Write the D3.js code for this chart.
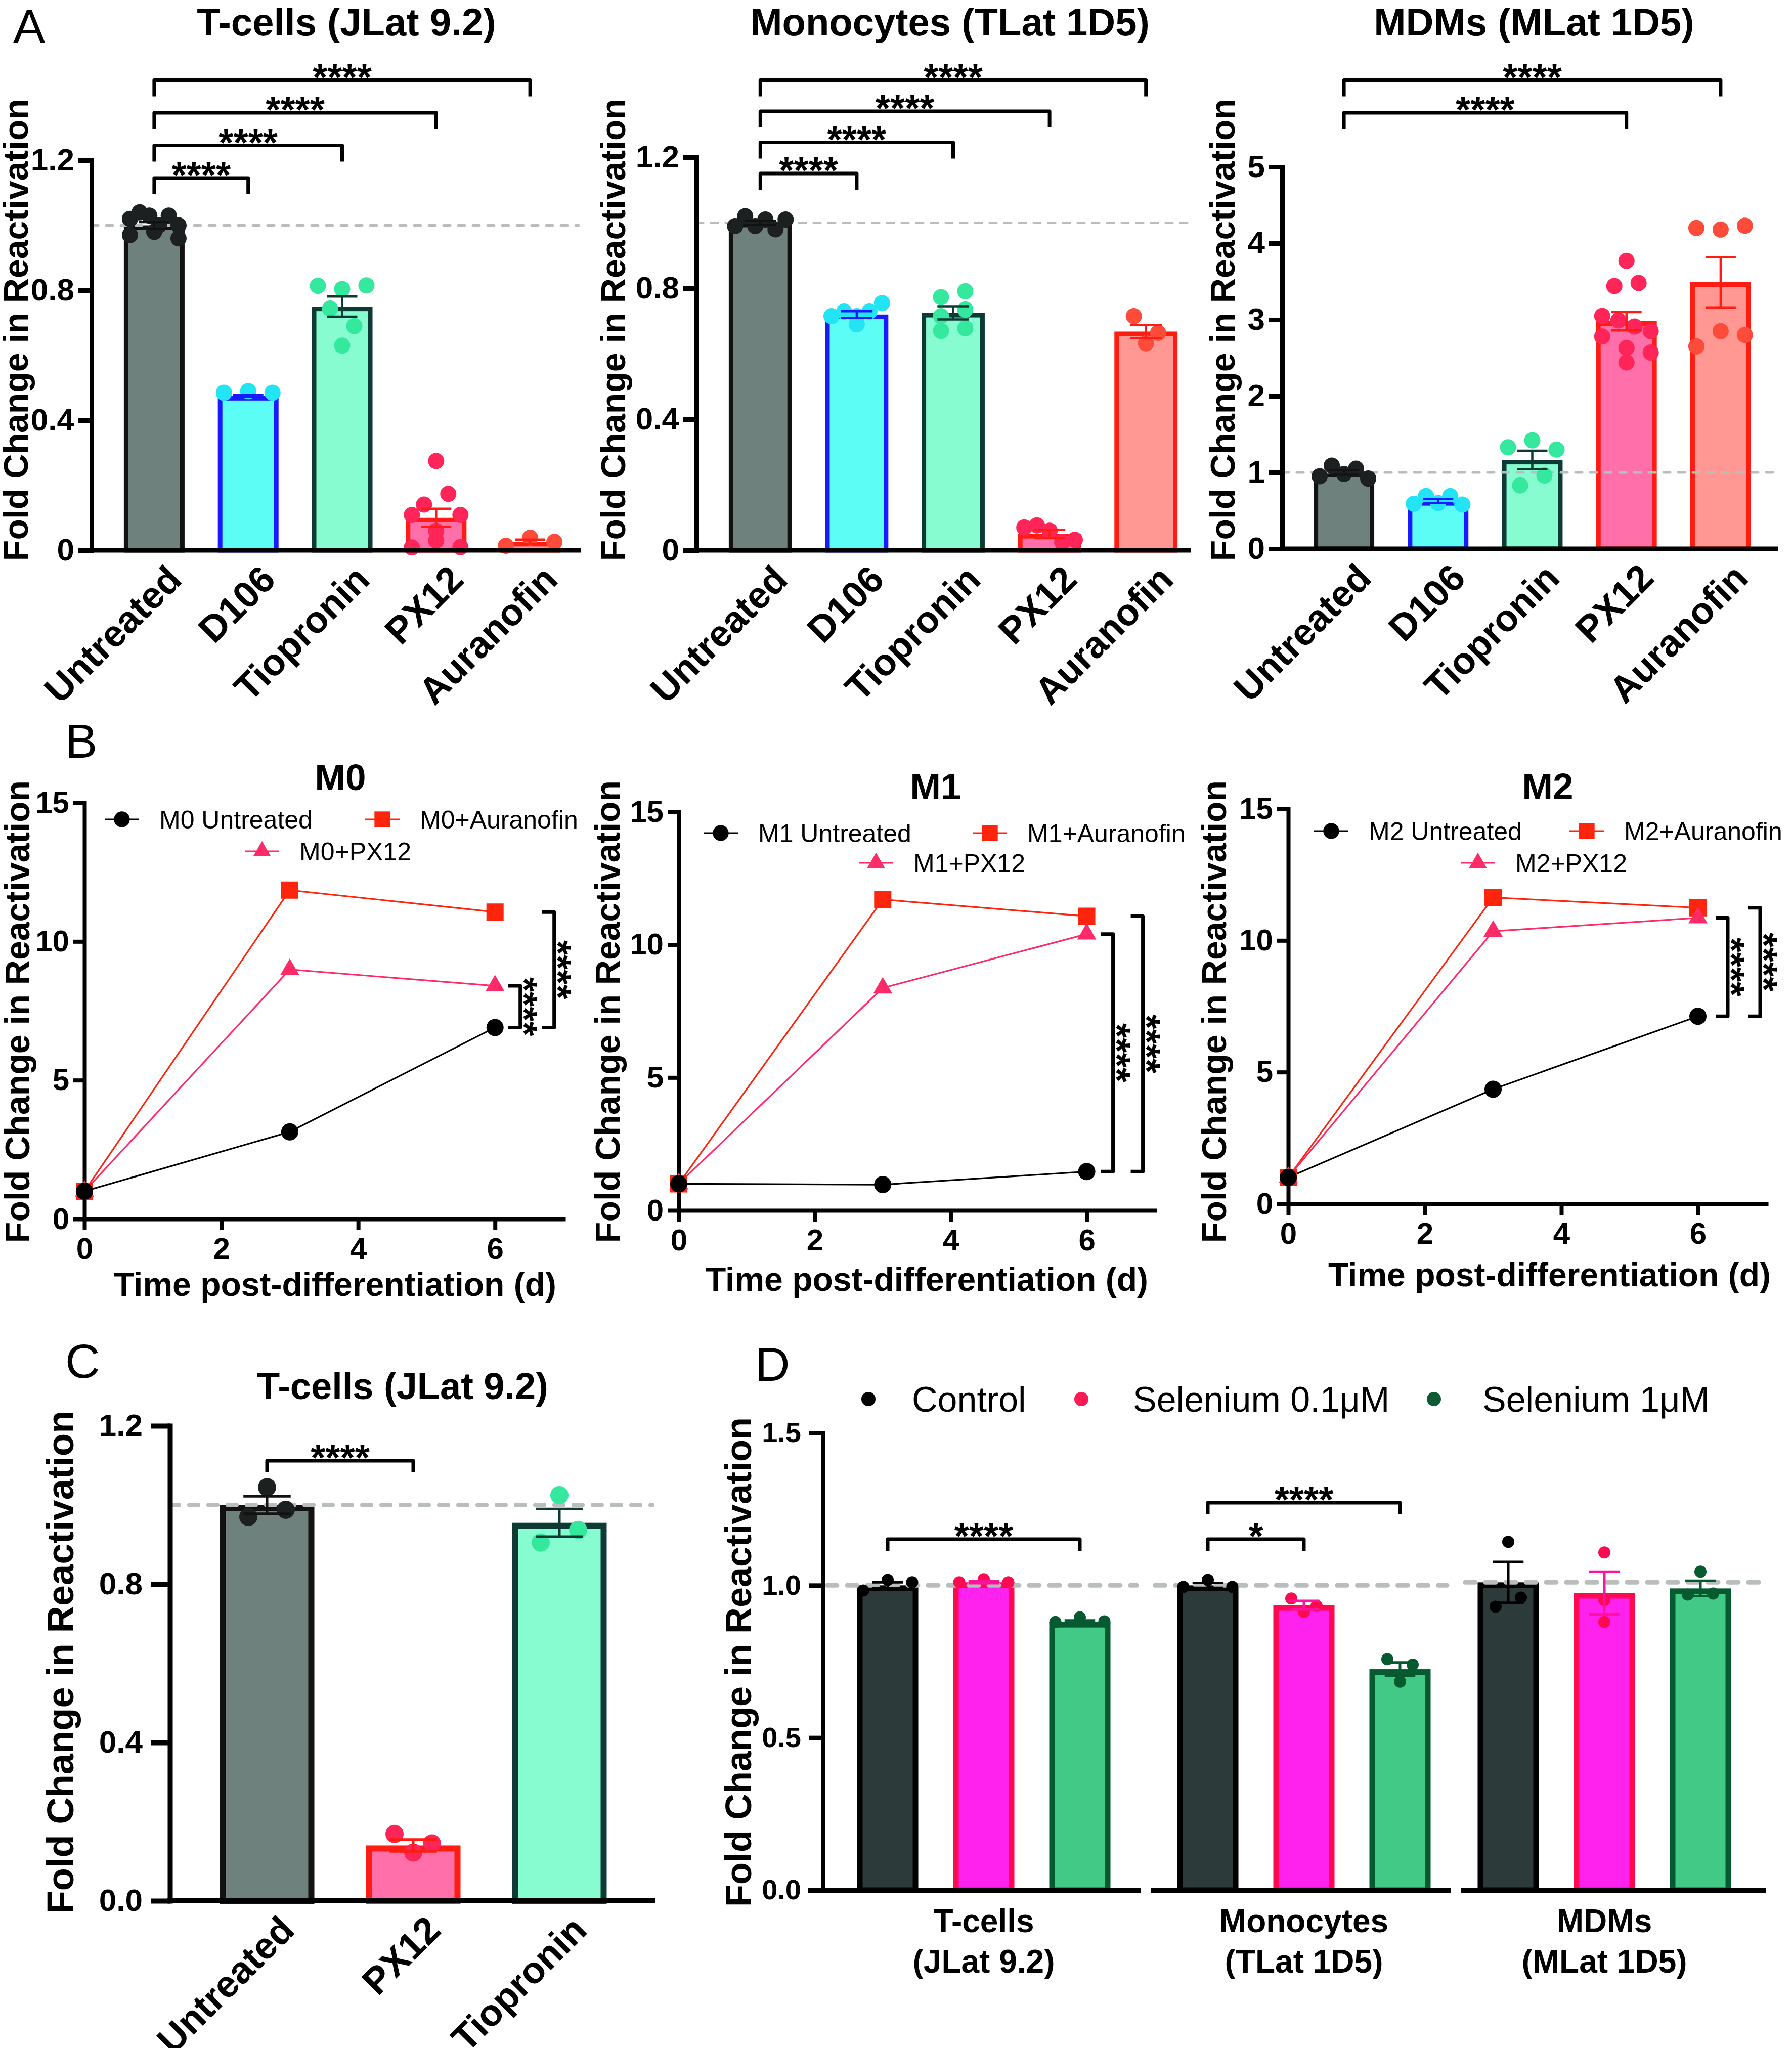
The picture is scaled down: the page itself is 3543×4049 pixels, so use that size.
<!DOCTYPE html>
<html>
<head>
<meta charset="utf-8">
<script src="https://cdn.jsdelivr.net/npm/d3@7/dist/d3.min.js"></script>
<style>
  html, body { margin:0; padding:0; background:#ffffff; }
  svg { display:block; }
</style>
</head>
<body>
<svg id="fig" width="3543" height="4049" xmlns="http://www.w3.org/2000/svg"></svg>
<script>
// ================= DATA =================
// Panel A
const aCategories = ["Untreated", "D106", "Tiopronin", "PX12", "Auranofin"];
const aTitles = ["T-cells (JLat 9.2)", "Monocytes (TLat 1D5)", "MDMs (MLat 1D5)"];

const aTcellMeans = [1.00, 0.475, 0.75, 0.10, 0.026];
const aTcellSEM   = [0.010, 0.003, 0.031, 0.028, 0.007];
const aTcellDots  = [
  [0.97, 1.02, 1.04, 0.98, 1.03, 1.00, 1.03, 0.96, 1.00],
  [0.485, 0.49, 0.485],
  [0.814, 0.804, 0.815, 0.744, 0.69, 0.63],
  [0.275, 0.141, 0.174, 0.109, 0.06, 0.109, 0.009, 0.03, 0.01],
  [0.014, 0.039, 0.026]
];

const aMonoMeans = [1.00, 0.72, 0.725, 0.05, 0.668];
const aMonoSEM   = [0.006, 0.010, 0.020, 0.013, 0.020];
const aMonoDots  = [
  [0.99, 1.02, 0.99, 1.01, 0.98, 1.01],
  [0.715, 0.729, 0.715, 0.729, 0.755, 0.69],
  [0.773, 0.791, 0.715, 0.735, 0.67, 0.678],
  [0.07, 0.076, 0.06, 0.025, 0.032],
  [0.715, 0.664, 0.632]
];

const aMdmMeans = [1.00, 0.625, 1.165, 2.98, 3.49];
const aMdmSEM   = [0.03, 0.025, 0.12, 0.12, 0.33];
const aMdmDots  = [
  [0.95, 1.09, 0.98, 1.05, 0.92],
  [0.59, 0.69, 0.60, 0.69, 0.58],
  [1.33, 1.42, 1.30, 0.83, 0.96],
  [3.77, 3.44, 3.48, 3.05, 2.99, 2.91, 2.85, 2.78, 2.63, 2.57, 2.44],
  [4.20, 4.18, 4.23, 2.65, 2.85, 2.80]
];

const aTicks12 = [0, 0.4, 0.8, 1.2];
const aTickLabels12 = ["0", "0.4", "0.8", "1.2"];
const aTicksMdm = [0, 1, 2, 3, 4, 5];
const aTickLabelsMdm = ["0", "1", "2", "3", "4", "5"];

const aCompAll = [["Untreated", "D106", "****"], ["Untreated", "Tiopronin", "****"],
                  ["Untreated", "PX12", "****"], ["Untreated", "Auranofin", "****"]];
const aCompMdm = [["Untreated", "PX12", "****"], ["Untreated", "Auranofin", "****"]];

// Panel B
const bDays = [0, 3, 6];
const bXTicks = [0, 2, 4, 6];
const bXTickLabels = ["0", "2", "4", "6"];
const bYTicks = [0, 5, 10, 15];
const bYTickLabels = ["0", "5", "10", "15"];
const bSeriesKeys = ["Untreated", "Auranofin", "PX12"];
const bLegendSuffix = [" Untreated", "+Auranofin", "+PX12"];
const bPanelNames = ["M0", "M1", "M2"];
const bM0Untreated = [1.0, 3.14, 6.9];
const bM0Auranofin = [1.0, 11.85, 11.06];
const bM0PX12      = [1.0, 8.99, 8.4];
const bM1Untreated = [1.0, 0.97, 1.46];
const bM1Auranofin = [1.0, 11.7, 11.07];
const bM1PX12      = [1.0, 8.37, 10.4];
const bM2Untreated = [1.0, 4.35, 7.12];
const bM2Auranofin = [1.0, 11.63, 11.24];
const bM2PX12      = [1.0, 10.35, 10.86];
const bComparisons = [["PX12", "Untreated", "****"], ["Auranofin", "Untreated", "****"]];

// Panel C
const cCategories = ["Untreated", "PX12", "Tiopronin"];
const cMeans = [1.0, 0.14, 0.955];
const cSEM   = [0.022, 0.015, 0.035];
const cDots  = [[1.045, 0.97, 0.988], [0.169, 0.145, 0.122], [1.025, 0.905, 0.937]];
const cTicks = [0, 0.4, 0.8, 1.2];
const cTickLabels = ["0.0", "0.4", "0.8", "1.2"];
const cComparisons = [["Untreated", "PX12", "****"]];

// Panel D
const dGroupLines = [["T-cells", "(JLat 9.2)"], ["Monocytes", "(TLat 1D5)"], ["MDMs", "(MLat 1D5)"]];
const dSeries = ["Control", "Selenium 0.1μM", "Selenium 1μM"];
const dControlMeans = [1.00, 1.00, 1.01];
const dSel01Means   = [1.01, 0.935, 0.975];
const dSel1Means    = [0.88, 0.725, 0.99];
const dControlSEM = [0.010, 0.008, 0.067];
const dSel01SEM   = [0.003, 0.014, 0.070];
const dSel1SEM    = [0.005, 0.022, 0.025];
const dControlDots = [[0.983, 1.018, 1.01], [0.995, 1.018, 0.995], [1.143, 0.93, 0.96]];
const dSel01Dots   = [[1.01, 1.02, 1.01], [0.913, 0.957, 0.933], [1.108, 0.952, 0.88]];
const dSel1Dots    = [[0.88, 0.895, 0.882], [0.758, 0.74, 0.684], [1.045, 0.97, 0.973]];
const dRefLine = [1.0, 1.0, 1.01];
const dTicks = [0, 0.5, 1.0, 1.5];
const dTickLabels = ["0.0", "0.5", "1.0", "1.5"];
const dComparisons = [[0, "Control", "Selenium 1μM", "****"], [1, "Control", "Selenium 0.1μM", "*"], [1, "Control", "Selenium 1μM", "****"]];

const yAxisTitle = "Fold Change in Reactivation";
const xTimeTitle = "Time post-differentiation (d)";

// ================= STYLE =================
const FONT = '"Liberation Sans", Arial, Helvetica, sans-serif';
const catStyle = {
  Untreated: {fill: "#6f817c", stroke: "#121212", dot: "#1c2020", err: "#121212"},
  D106:      {fill: "#5cfdf5", stroke: "#1a1aff", dot: "#22e4f4", err: "#1a1aff"},
  Tiopronin: {fill: "#87fcd0", stroke: "#0e3a35", dot: "#34e89e", err: "#0e3a35"},
  PX12:      {fill: "#ff70ab", stroke: "#ff1c12", dot: "#ff2558", err: "#ff1c12"},
  Auranofin: {fill: "#ff9893", stroke: "#ff1c12", dot: "#ff4b3a", err: "#ff1c12"}
};
const lineStyle = {
  Untreated: {color: "#000000", marker: d3.symbolCircle, size: Math.PI * 17 * 17},
  Auranofin: {color: "#ff250c", marker: d3.symbolSquare, size: 34 * 34},
  PX12:      {color: "#ff2a68", marker: d3.symbolTriangle, size: 620}
};
const dStyle = [
  {fill: "#2c3a3a", stroke: "#000000", dot: "#000000", err: "#000000", legend: "#000000"},
  {fill: "#ff22ee", stroke: "#ff0a50", dot: "#ff0a50", err: "#ff12a0", legend: "#ff1a55"},
  {fill: "#42c986", stroke: "#065a30", dot: "#065a30", err: "#065a30", legend: "#0b5c35"}
];
const STAR_BASE = 19;
const STAR_FONT = 75;

const svg = d3.select("#fig");
svg.append("rect").attr("x", 0).attr("y", 0).attr("width", 3543).attr("height", 4049).attr("fill", "#ffffff");

function addText(g, x, y, s, size, weight, anchor) {
  return g.append("text").attr("x", x).attr("y", y).text(s)
    .attr("font-family", FONT).attr("font-size", size)
    .attr("font-weight", weight).attr("text-anchor", anchor).attr("fill", "#000");
}
function addRotText(g, x, y, angle, s, size, weight, anchor) {
  return g.append("text").attr("transform", `translate(${x},${y}) rotate(${angle})`).text(s)
    .attr("font-family", FONT).attr("font-size", size).attr("font-weight", weight)
    .attr("text-anchor", anchor).attr("fill", "#000");
}
function styleAxis(ag, w, fs) {
  ag.attr("font-family", FONT).attr("font-size", fs).attr("font-weight", "bold");
  ag.select(".domain").attr("stroke", "#000").attr("stroke-width", w).attr("stroke-linecap", "square");
  ag.selectAll(".tick line").attr("stroke", "#000").attr("stroke-width", w);
  ag.selectAll(".tick text").attr("fill", "#000");
}
// horizontal spreading of replicate dots (GraphPad-like rows)
function swarmOffsets(vals, y, r, step, maxSpan, rowFactor) {
  const idx = vals.map((v, i) => i).sort((a, b) => y(vals[a]) - y(vals[b]));
  const rows = [];
  let cur = null;
  idx.forEach(i => {
    const yy = y(vals[i]);
    if (cur && yy - cur.start < rowFactor * r) cur.items.push(i);
    else { cur = {start: yy, items: [i]}; rows.push(cur); }
  });
  const off = vals.map(() => 0);
  rows.forEach(row => {
    const m = row.items.length;
    if (m === 1) return;
    const sp = Math.min(step, maxSpan / (m - 1));
    row.items.slice().sort((a, b) => a - b).forEach((i, j) => { off[i] = (j - (m - 1) / 2) * sp; });
  });
  return off;
}

// ================= BAR PANELS (A, C) =================
function barPanel(cfg) {
  const g = svg.append("g");
  const x = d3.scaleBand().domain(cfg.categories).range(cfg.xRange)
    .paddingInner(cfg.pad).paddingOuter(cfg.pad / 2);
  const y = d3.scaleLinear().domain(cfg.yDomain).range(cfg.yRange);
  const bw = x.bandwidth(), sw = cfg.barStroke;
  const cx = c => x(c) + bw / 2;

  g.selectAll(null).data(cfg.categories).join("rect")
    .attr("x", c => x(c) + sw / 2).attr("width", bw - sw)
    .attr("y", (c, i) => y(cfg.means[i]) + sw / 2)
    .attr("height", (c, i) => Math.max(0, y(0) - y(cfg.means[i]) - sw / 2))
    .attr("fill", c => catStyle[c].fill).attr("stroke", c => catStyle[c].stroke)
    .attr("stroke-width", sw);

  g.append("line").attr("x1", cfg.yAxisX).attr("x2", cfg.xAxisEnd)
    .attr("y1", y(1)).attr("y2", y(1))
    .attr("stroke", "#b9bebc").attr("stroke-width", cfg.dashW)
    .attr("stroke-dasharray", cfg.dash).attr("stroke-linecap", "round");

  cfg.categories.forEach((c, i) => {
    const vals = cfg.dots[i];
    const off = swarmOffsets(vals, y, cfg.r, cfg.step, bw * 0.8, cfg.rowFactor);
    g.selectAll(null).data(vals).join("circle")
      .attr("cx", (v, j) => cx(c) + off[j]).attr("cy", v => y(v))
      .attr("r", cfg.r).attr("fill", catStyle[c].dot);
  });

  cfg.categories.forEach((c, i) => {
    const m = cfg.means[i], s = cfg.sem[i];
    const X = cx(c), yt = y(m + s), yb = y(Math.max(0, m - s)), cw = bw / 4;
    g.append("path")
      .attr("d", `M${X},${yt}V${yb}M${X - cw},${yt}H${X + cw}M${X - cw},${yb}H${X + cw}`)
      .attr("stroke", catStyle[c].err).attr("stroke-width", cfg.errW).attr("fill", "none");
  });

  const ya = d3.axisLeft(y).tickValues(cfg.ticks)
    .tickFormat(d => cfg.tickLabels[cfg.ticks.indexOf(d)])
    .tickSize(cfg.tickLen).tickSizeOuter(0).tickPadding(cfg.tickPad);
  const yg = g.append("g").attr("transform", `translate(${cfg.yAxisX},0)`).call(ya);
  styleAxis(yg, cfg.axisW, cfg.tickFont);
  g.append("line").attr("x1", cfg.yAxisX).attr("x2", cfg.xAxisEnd)
    .attr("y1", y(0)).attr("y2", y(0))
    .attr("stroke", "#000").attr("stroke-width", cfg.axisW).attr("stroke-linecap", "square");

  cfg.categories.forEach(c => {
    addRotText(g, cx(c) + cfg.lblDx, y(0) + cfg.lblDy, -45, c, cfg.lblFont, "bold", "end");
  });

  cfg.comparisons.forEach((cmp, k) => {
    const yb = cfg.bracketBase - (k + cfg.levelOffset) * cfg.bracketGap;
    const x1 = cx(cmp[0]), x2 = cx(cmp[1]);
    g.append("path").attr("d", `M${x1},${yb + cfg.leg}V${yb}H${x2}V${yb + cfg.leg}`)
      .attr("fill", "none").attr("stroke", "#000").attr("stroke-width", cfg.brW)
      .attr("stroke-linejoin", "round");
    addText(g, (x1 + x2) / 2, yb + STAR_BASE, cmp[2], STAR_FONT, "bold", "middle");
  });

  addText(g, cfg.titleX, cfg.titleY, cfg.title, cfg.titleFont, "bold", "middle");
  addRotText(g, cfg.ylabelX, cfg.ylabelY, -90, yAxisTitle, cfg.ylabelFont, "bold", "middle");
}

const aCommon = {
  categories: aCategories, pad: 0.354, barStroke: 9, dashW: 5, dash: "13,16", r: 16, step: 48,
  rowFactor: 2.2, errW: 4.5, tickLen: 27, tickPad: 7, tickFont: 62, axisW: 9,
  lblDx: 58, lblDy: 62, lblFont: 74, leg: 32, brW: 7, titleY: 70, titleFont: 76,
  ylabelY: 652, ylabelFont: 68
};

barPanel(Object.assign({}, aCommon, {
  means: aTcellMeans, sem: aTcellSEM, dots: aTcellDots,
  yDomain: [0, 1.2], yRange: [1088, 317], xRange: [212, 1141],
  yAxisX: 181, xAxisEnd: 1144, ticks: aTicks12, tickLabels: aTickLabels12,
  comparisons: aCompAll, levelOffset: 0, bracketBase: 352, bracketGap: 64.5,
  title: aTitles[0], titleX: 685, ylabelX: 55
}));
barPanel(Object.assign({}, aCommon, {
  means: aMonoMeans, sem: aMonoSEM, dots: aMonoDots, pad: 0.345,
  yDomain: [0, 1.2], yRange: [1088, 311], xRange: [1408, 2361],
  yAxisX: 1377, xAxisEnd: 2350, ticks: aTicks12, tickLabels: aTickLabels12,
  comparisons: aCompAll, levelOffset: 0, bracketBase: 343, bracketGap: 61.5,
  title: aTitles[1], titleX: 1878, ylabelX: 1236
}));
barPanel(Object.assign({}, aCommon, {
  means: aMdmMeans, sem: aMdmSEM, dots: aMdmDots, pad: 0.356,
  yDomain: [0, 5], yRange: [1085, 330], xRange: [2564, 3495],
  yAxisX: 2535, xAxisEnd: 3511, ticks: aTicksMdm, tickLabels: aTickLabelsMdm,
  comparisons: aCompMdm, levelOffset: 2, bracketBase: 352, bracketGap: 64.5,
  title: aTitles[2], titleX: 3033, ylabelX: 2441
}));

barPanel({
  categories: cCategories, means: cMeans, sem: cSEM, dots: cDots, pad: 0.353,
  barStroke: 12, dashW: 8, dash: "18,20", r: 18, step: 74, rowFactor: 2.0, errW: 5,
  yDomain: [0, 1.2], yRange: [3758, 2819], xRange: [383.5, 1250.5],
  yAxisX: 336, xAxisEnd: 1290, ticks: cTicks, tickLabels: cTickLabels,
  tickLen: 38, tickPad: 16, tickFont: 62, axisW: 10,
  lblDx: 58, lblDy: 62, lblFont: 74,
  comparisons: cComparisons, levelOffset: 0, bracketBase: 2888, bracketGap: 60, leg: 22, brW: 7,
  title: "T-cells (JLat 9.2)", titleX: 796, titleY: 2766, titleFont: 74,
  ylabelX: 145, ylabelY: 3286, ylabelFont: 74
});

// ================= LINE PANELS (B) =================
function linePanel(cfg) {
  const g = svg.append("g");
  const x = d3.scaleLinear().domain([0, 7]).range([cfg.x0, cfg.x7]);
  const y = d3.scaleLinear().domain([0, 15]).range([cfg.y0, cfg.y15]);

  const xa = d3.axisBottom(x).tickValues(bXTicks)
    .tickFormat(d => bXTickLabels[bXTicks.indexOf(d)])
    .tickSize(22).tickSizeOuter(0).tickPadding(14);
  const xg = g.append("g").attr("transform", `translate(0,${cfg.y0})`).call(xa);
  styleAxis(xg, 8, 60);
  const ya = d3.axisLeft(y).tickValues(bYTicks)
    .tickFormat(d => bYTickLabels[bYTicks.indexOf(d)])
    .tickSize(22).tickSizeOuter(0).tickPadding(8);
  const yg = g.append("g").attr("transform", `translate(${cfg.x0},0)`).call(ya);
  styleAxis(yg, 8, 60);

  const order = ["Auranofin", "PX12", "Untreated"];
  const line = d3.line().x((d, i) => x(bDays[i])).y(d => y(d));
  order.forEach(k => {
    g.append("path").datum(cfg.series[k]).attr("d", line)
      .attr("fill", "none").attr("stroke", lineStyle[k].color).attr("stroke-width", 3.2);
  });
  order.forEach(k => {
    const sym = d3.symbol().type(lineStyle[k].marker).size(lineStyle[k].size);
    g.selectAll(null).data(cfg.series[k]).join("path")
      .attr("d", sym).attr("transform", (d, i) => `translate(${x(bDays[i])},${y(d)})`)
      .attr("fill", lineStyle[k].color);
  });

  // legend
  bSeriesKeys.forEach((k, i) => {
    const [mx, my] = cfg.legend[i];
    g.append("line").attr("x1", mx - 34).attr("x2", mx + 34).attr("y1", my).attr("y2", my)
      .attr("stroke", lineStyle[k].color).attr("stroke-width", 3.2);
    g.append("path").attr("d", d3.symbol().type(lineStyle[k].marker).size(lineStyle[k].size * 0.85))
      .attr("transform", `translate(${mx},${my})`).attr("fill", lineStyle[k].color);
    addText(g, mx + 74, my + 18, cfg.name + bLegendSuffix[i], 50, "normal", "start");
  });

  // significance brackets at the last day
  bComparisons.forEach((cmp, k) => {
    const last = bDays.length - 1;
    const yt = y(cfg.series[cmp[0]][last]), yb = y(cfg.series[cmp[1]][last]);
    const xb = x(bDays[last]) + cfg.bracketDx[k];
    g.append("path").attr("d", `M${xb - 24},${yt}H${xb}V${yb}H${xb - 24}`)
      .attr("fill", "none").attr("stroke", "#000").attr("stroke-width", 7).attr("stroke-linejoin", "round");
    addRotText(g, xb - STAR_BASE + 1, (yt + yb) / 2, 90, cmp[2], STAR_FONT, "bold", "middle");
  });

  addText(g, cfg.titleX, cfg.titleY, cfg.name, 73, "bold", "middle");
  addText(g, (cfg.x0 + cfg.x7) / 2 + cfg.xtDx, cfg.y0 + cfg.xtDy, xTimeTitle, 66, "bold", "middle");
  addRotText(g, cfg.ylabelX, 2000, -90, yAxisTitle, 68, "bold", "middle");
}

linePanel({
  name: bPanelNames[0], series: {Untreated: bM0Untreated, Auranofin: bM0Auranofin, PX12: bM0PX12},
  x0: 167, x7: 1114, y0: 2410, y15: 1587, titleX: 673, titleY: 1562, ylabelX: 58,
  legend: [[241, 1620], [756, 1620], [518, 1683]], bracketDx: [50, 117], xtDx: 22, xtDy: 152
});
linePanel({
  name: bPanelNames[1], series: {Untreated: bM1Untreated, Auranofin: bM1Auranofin, PX12: bM1PX12},
  x0: 1342, x7: 2283, y0: 2393, y15: 1605, titleX: 1850, titleY: 1580, ylabelX: 1225,
  legend: [[1425, 1647], [1957, 1647], [1732, 1706]], bracketDx: [52, 111], xtDx: 20, xtDy: 159
});
linePanel({
  name: bPanelNames[2], series: {Untreated: bM2Untreated, Auranofin: bM2Auranofin, PX12: bM2PX12},
  x0: 2547, x7: 3492, y0: 2380, y15: 1599, titleX: 3060, titleY: 1580, ylabelX: 2424,
  legend: [[2632, 1643], [3137, 1643], [2922, 1706]], bracketDx: [59, 123], xtDx: 44, xtDy: 163
});

// ================= GROUPED PANEL (D) =================
(function groupedPanel() {
  const g = svg.append("g");
  const yAxisX = 1627;
  const nG = dGroupLines.length;
  // group centres on a piecewise-linear scale (groups are not evenly spaced in the figure)
  const gx = d3.scaleLinear().domain([0, 1, 2]).range([1945, 2578, 3172]);
  const x1 = d3.scaleBand().domain(dSeries).range([-285, 285]).paddingInner(0.363).paddingOuter(0.1815);
  const y = d3.scaleLinear().domain([0, 1.5]).range([3737, 2833]);
  const bw = x1.bandwidth(), sw = 11;
  const gc = i => gx(i);
  const bcx = (i, s) => gc(i) + x1(s) + bw / 2;
  const dMeans = [dControlMeans, dSel01Means, dSel1Means];
  const dSEMs = [dControlSEM, dSel01SEM, dSel1SEM];
  const dDots = [dControlDots, dSel01Dots, dSel1Dots];
  const segStart = i => (i === 0 ? yAxisX - 29 : (gx(i - 1) + gx(i)) / 2 + 14);
  const segEnd = i => (i === nG - 1 ? gx(i) + 319 : (gx(i) + gx(i + 1)) / 2 - 6);

  dSeries.forEach((s, si) => {
    g.selectAll(null).data(dMeans[si]).join("rect")
      .attr("x", (m, i) => gc(i) + x1(s) + sw / 2).attr("width", bw - sw)
      .attr("y", m => y(m) + sw / 2).attr("height", m => Math.max(0, y(0) - y(m) - sw / 2))
      .attr("fill", dStyle[si].fill).attr("stroke", dStyle[si].stroke).attr("stroke-width", sw);
  });
  d3.range(nG).forEach(i => {
    g.append("line").attr("x1", i === 0 ? yAxisX + 8 : segStart(i) + 8).attr("x2", segEnd(i) - 8)
      .attr("y1", y(dRefLine[i])).attr("y2", y(dRefLine[i]))
      .attr("stroke", "#b9bebc").attr("stroke-width", 9).attr("stroke-dasharray", "20,20")
      .attr("stroke-linecap", "round");
  });
  dSeries.forEach((s, si) => {
    d3.range(nG).forEach(i => {
      const vals = dDots[si][i];
      const off = swarmOffsets(vals, y, 12, 50, bw * 0.8, 2.2);
      g.selectAll(null).data(vals).join("circle")
        .attr("cx", (v, j) => bcx(i, s) + off[j]).attr("cy", v => y(v))
        .attr("r", 12).attr("fill", dStyle[si].dot);
      const m = dMeans[si][i], e = dSEMs[si][i], X = bcx(i, s), cw = bw / 4;
      g.append("path")
        .attr("d", `M${X},${y(m + e)}V${y(m - e)}M${X - cw},${y(m + e)}H${X + cw}M${X - cw},${y(m - e)}H${X + cw}`)
        .attr("stroke", dStyle[si].err).attr("stroke-width", 5).attr("fill", "none");
    });
  });

  const ya = d3.axisLeft(y).tickValues(dTicks)
    .tickFormat(d => dTickLabels[dTicks.indexOf(d)])
    .tickSize(27).tickSizeOuter(0).tickPadding(16);
  const yg = g.append("g").attr("transform", `translate(${yAxisX},0)`).call(ya);
  styleAxis(yg, 9, 56);
  d3.range(nG).forEach(i => {
    g.append("line").attr("x1", segStart(i)).attr("x2", segEnd(i)).attr("y1", y(0)).attr("y2", y(0))
      .attr("stroke", "#000").attr("stroke-width", 10);
    addText(g, gc(i), 3820, dGroupLines[i][0], 64, "bold", "middle");
    addText(g, gc(i), 3900, dGroupLines[i][1], 64, "bold", "middle");
  });

  const levelCount = {};
  dComparisons.forEach(cmp => {
    const [gi, a, b, lbl] = cmp;
    const lvl = levelCount[gi] || 0; levelCount[gi] = lvl + 1;
    const yb = 3043 - lvl * 72;
    const x1p = bcx(gi, a), x2p = bcx(gi, b);
    g.append("path").attr("d", `M${x1p},${yb + 23}V${yb}H${x2p}V${yb + 23}`)
      .attr("fill", "none").attr("stroke", "#000").attr("stroke-width", 7).attr("stroke-linejoin", "round");
    addText(g, (x1p + x2p) / 2, yb + STAR_BASE, lbl, STAR_FONT, "bold", "middle");
  });

  const legPos = [[1717, 1803], [2138, 2240], [2835, 2931]];
  dSeries.forEach((s, si) => {
    g.append("circle").attr("cx", legPos[si][0]).attr("cy", 2766).attr("r", 14).attr("fill", dStyle[si].legend);
    addText(g, legPos[si][1], 2791, s, 70, "normal", "start");
  });

  addRotText(g, 1485, 3286, -90, yAxisTitle, 72, "bold", "middle");
})();

// ================= PANEL LETTERS =================
addText(svg, 26, 85, "A", 95, "normal", "start");
addText(svg, 129, 1498, "B", 95, "normal", "start");
addText(svg, 129, 2724, "C", 95, "normal", "start");
addText(svg, 1493, 2730, "D", 95, "normal", "start");
</script>
</body>
</html>
